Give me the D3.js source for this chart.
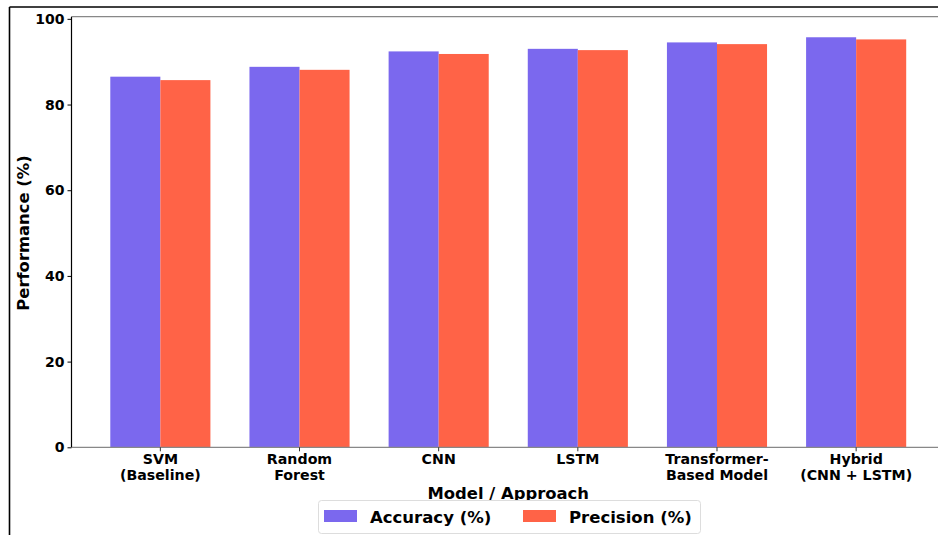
<!DOCTYPE html>
<html><head><meta charset="utf-8">
<script src="https://cdn.jsdelivr.net/npm/d3@7"></script>
<style>
html,body{margin:0;padding:0;background:#fff;}
svg{display:block;font-family:"DejaVu Sans",sans-serif;font-weight:bold;}
</style></head>
<body>
<svg id="chart" width="938" height="535"></svg>
<script>
const categories = ["SVM\n(Baseline)", "Random\nForest", "CNN", "LSTM", "Transformer-\nBased Model", "Hybrid\n(CNN + LSTM)"];
const seriesNames = ["Accuracy (%)", "Precision (%)"];
const accuracy = [86.5, 88.8, 92.4, 93.0, 94.5, 95.7];
const precision = [85.7, 88.1, 91.8, 92.7, 94.1, 95.2];
const yTicks = [0, 20, 40, 60, 80, 100];
const colors = ["#7B68EE", "#FF6347"];

const svg = d3.select("#chart");
const L = 71.5, R = 945, T = 16.7, B = 447.3;

// outer frame
svg.append("line").attr("x1", 9.5).attr("x2", 938).attr("y1", 7).attr("y2", 7).attr("stroke", "#000").attr("stroke-width", 1.6);
svg.append("line").attr("x1", 9.5).attr("x2", 9.5).attr("y1", 7).attr("y2", 535).attr("stroke", "#000").attr("stroke-width", 1.6);

const x0 = d3.scaleBand().domain(d3.range(categories.length)).range([L, R]).paddingInner(0.2806).paddingOuter(0.2788);
const x1 = d3.scaleBand().domain([0, 1]).range([0, x0.bandwidth()]).padding(0);
const y = d3.scaleLinear().domain([0, 100.5]).range([B, T]);

const data = categories.map((c, i) => ({i, vals: [accuracy[i], precision[i]]}));

const g = svg.append("g");
const groups = g.selectAll("g.grp").data(data).join("g").attr("transform", d => `translate(${x0(d.i)},0)`);
groups.selectAll("rect").data(d => d.vals.map((v, k) => ({v, k}))).join("rect")
  .attr("x", d => x1(d.k)).attr("width", x1.bandwidth())
  .attr("y", d => y(d.v)).attr("height", d => B - y(d.v))
  .attr("fill", d => colors[d.k]);

// spines
svg.append("line").attr("x1", L).attr("x2", 938).attr("y1", T).attr("y2", T).attr("stroke", "#888").attr("stroke-width", 1.2);
svg.append("line").attr("x1", L).attr("x2", 938).attr("y1", B).attr("y2", B).attr("stroke", "#888").attr("stroke-width", 1.2);

// y axis
const yAxis = d3.axisLeft(y).tickValues(yTicks).tickSize(4).tickPadding(3);
const ya = svg.append("g").attr("transform", `translate(${L},0)`).call(yAxis);
ya.select(".domain").attr("stroke", "#000").attr("stroke-width", 1.2).attr("d", `M0,${B}V${T}`);
ya.selectAll(".tick line").attr("stroke", "#000");
ya.selectAll(".tick text").attr("font-size", 14).attr("font-weight", "bold").attr("font-family", "DejaVu Sans").attr("fill", "#000");

// x axis ticks and labels
const xt = svg.append("g").selectAll("g").data(data).join("g")
  .attr("transform", d => `translate(${x0(d.i) + x0.bandwidth() / 2},${B})`);
xt.append("line").attr("y1", 0).attr("y2", 4).attr("stroke", "#333");
xt.append("text").attr("text-anchor", "middle").attr("font-size", 14.2).attr("fill", "#000")
  .selectAll("tspan").data(d => categories[d.i].split("\n")).join("tspan")
  .attr("x", 0).attr("y", (d, j) => 17 + j * 15.5).text(d => d);

// axis labels
svg.append("text").attr("x", (L + R) / 2).attr("y", 499).attr("text-anchor", "middle").attr("font-size", 16.4).text("Model / Approach");
svg.append("text").attr("transform", `translate(29,${(T + B) / 2 + 1}) rotate(-90)`).attr("text-anchor", "middle").attr("font-size", 16.4).text("Performance (%)");

// legend
const lg = svg.append("g");
lg.append("rect").attr("x", 318.5).attr("y", 500.5).attr("width", 382).attr("height", 33).attr("rx", 3)
  .attr("fill", "#fff").attr("stroke", "#ddd").attr("stroke-width", 1);
const items = lg.selectAll("g.it").data(seriesNames).join("g").attr("transform", (d, k) => `translate(${324 + k * 199},0)`);
items.append("rect").attr("x", 0).attr("y", 510).attr("width", 33).attr("height", 12).attr("fill", (d, k) => colors[k]);
items.append("text").attr("x", 46).attr("y", 522.5).attr("font-size", 16.5).text(d => d);
</script>
</body></html>
